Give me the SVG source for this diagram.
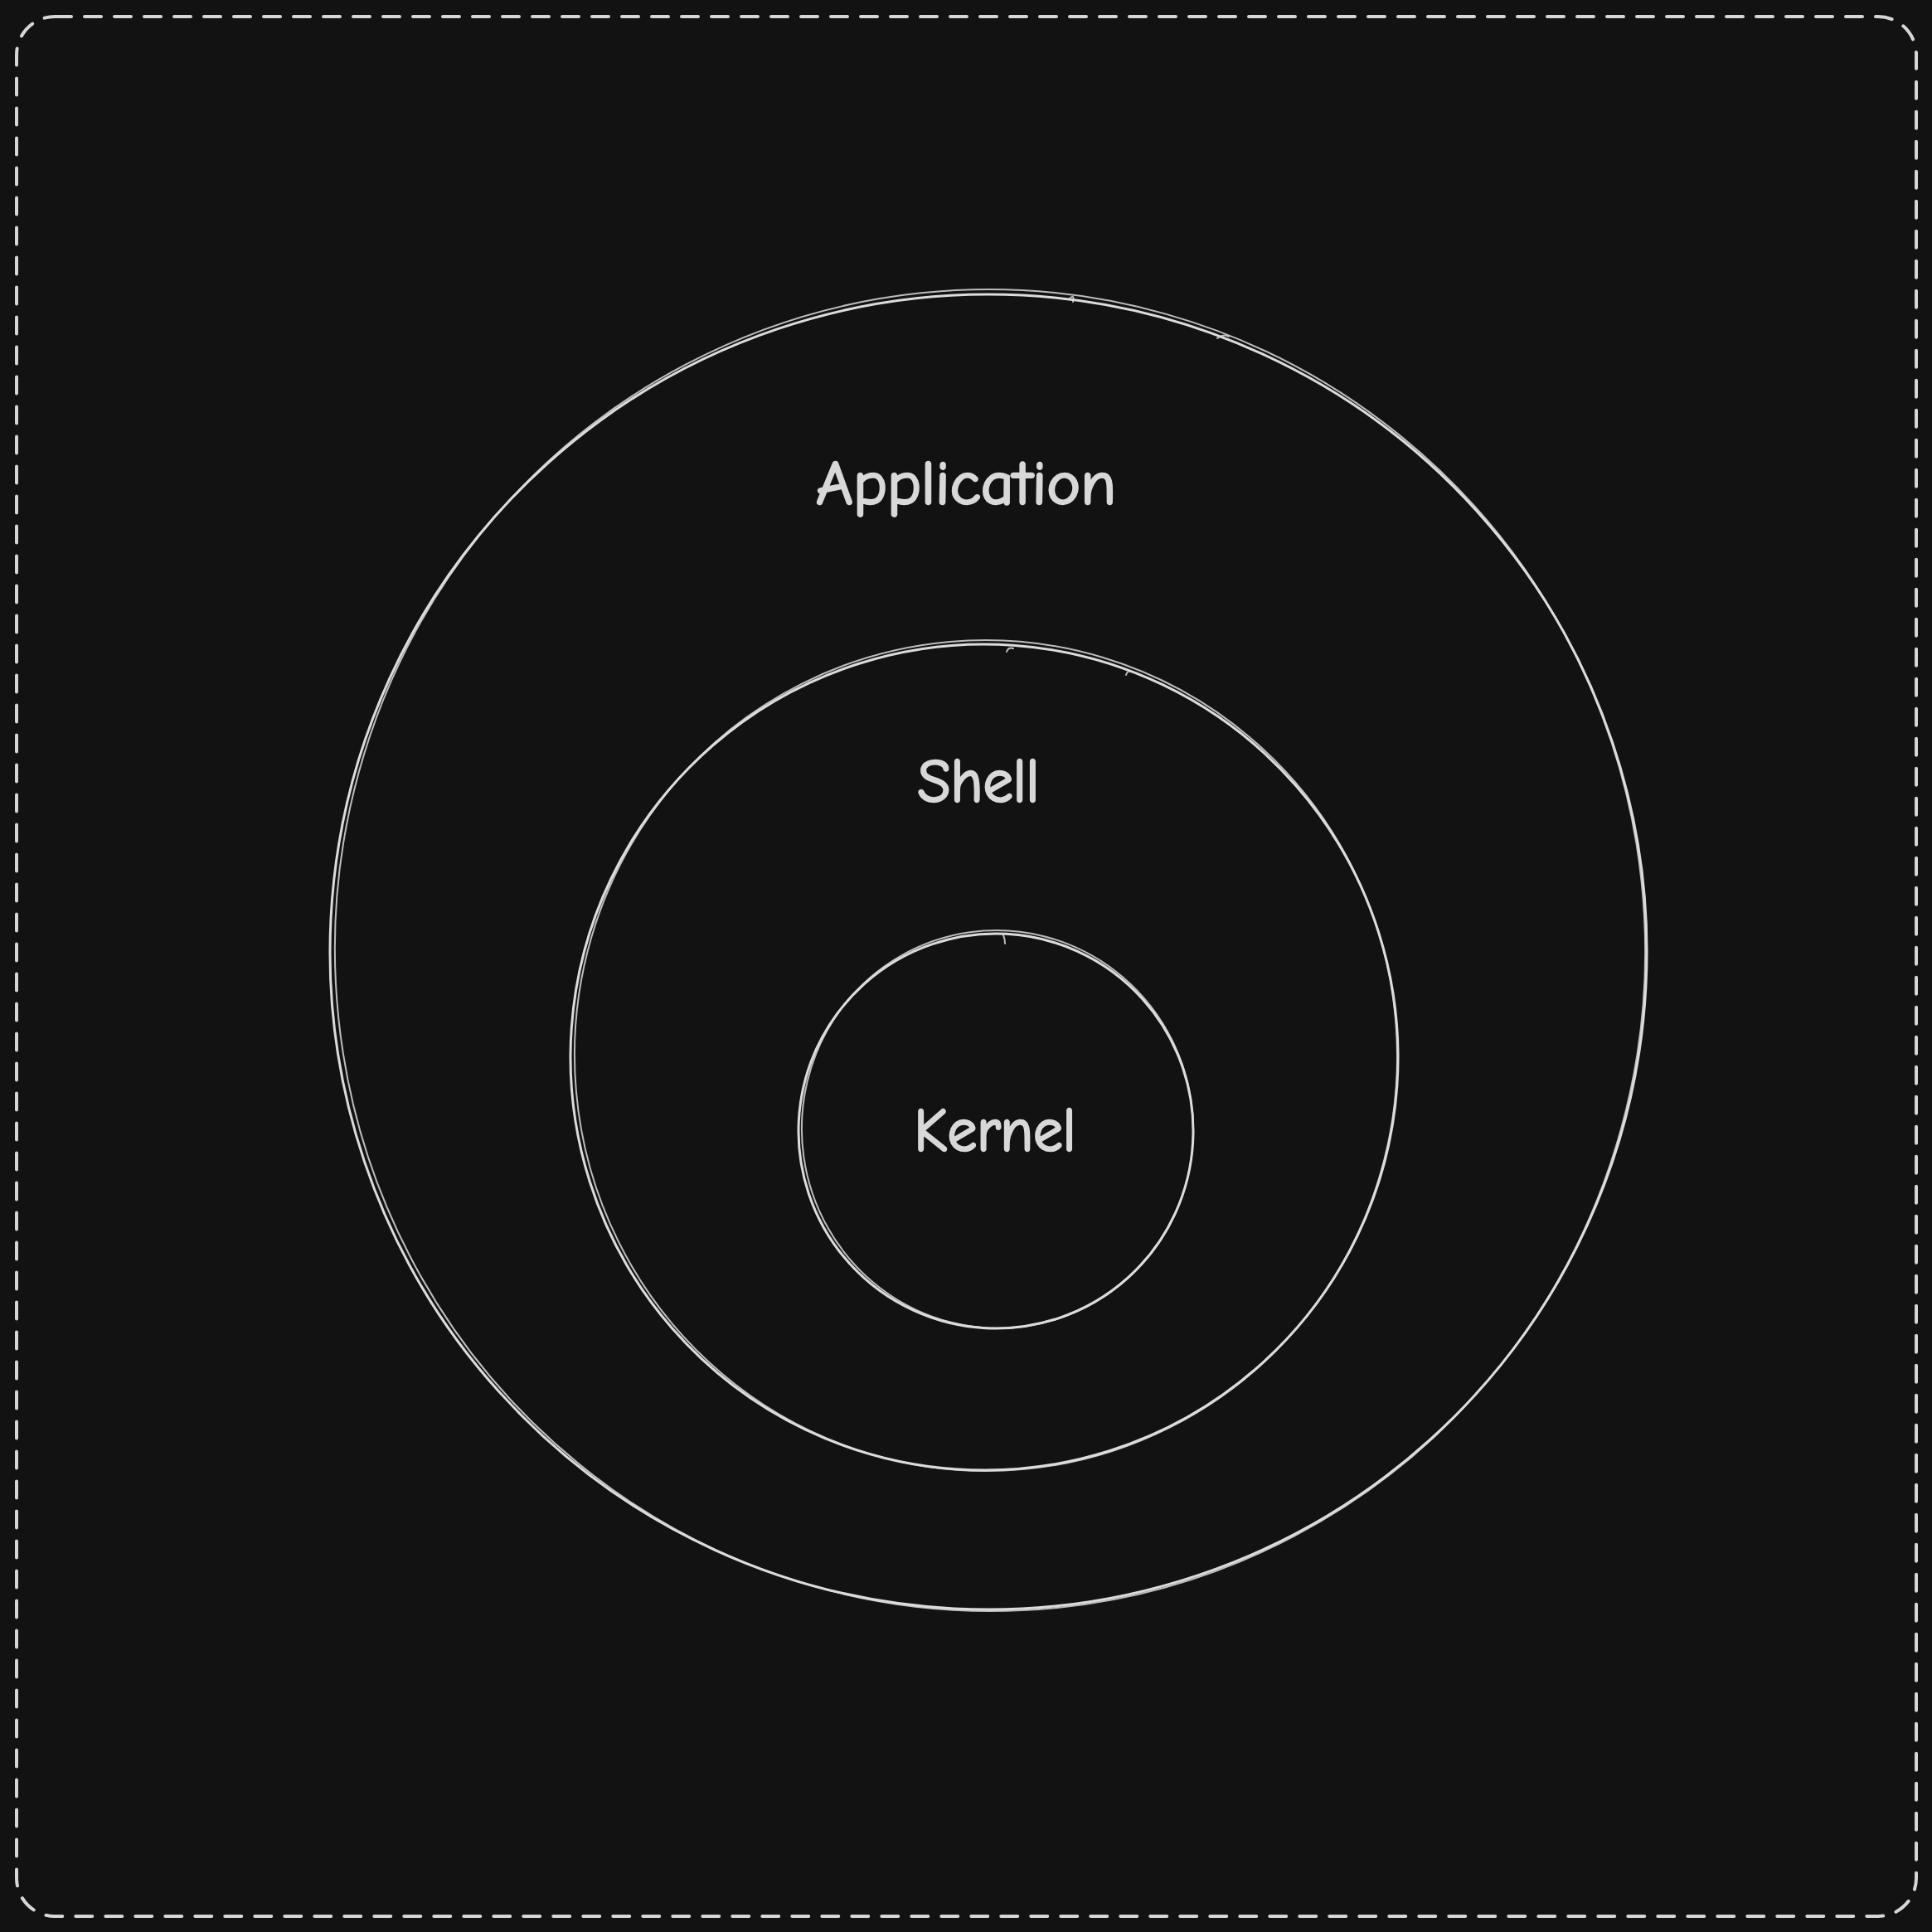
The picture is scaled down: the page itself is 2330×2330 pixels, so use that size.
<svg xmlns="http://www.w3.org/2000/svg" width="2330" height="2330" viewBox="0 0 2330 2330">
<style>
.bg{fill:#121212}
.frame{fill:none;stroke:#d6d6d6;stroke-width:4;stroke-dasharray:20 16;stroke-linecap:round}
.ring{fill:none;stroke:#dcdcdc;stroke-width:3;stroke-linecap:round}
.ring2{fill:none;stroke:#dcdcdc;stroke-width:2;stroke-linecap:round;opacity:0.85}
.lbl{font-family:"Comic Neue","Liberation Sans","DejaVu Sans",sans-serif;font-size:74px;fill:#d8d8d8;stroke:#d8d8d8;stroke-width:2.5;stroke-linejoin:round;text-anchor:middle}
</style>
<rect class="bg" x="0" y="0" width="2330" height="2330"/>
<g id="frame">
<rect class="frame" x="20" y="20" width="2291" height="2291" rx="46" ry="46"/>
</g>
<g id="application">
<ellipse class="ring" cx="1192" cy="1148" rx="794" ry="793" transform="rotate(3 1192 1148)"/>
<ellipse class="ring2" cx="1194" cy="1146" rx="790" ry="797" transform="rotate(-6 1194 1146)"/>
<path class="ring2" d="M1290 360 q6 -6 4 4 M1468 408 q8 -6 14 -2"/>
<text class="lbl" x="1165" y="608" textLength="362" lengthAdjust="spacingAndGlyphs">Application</text>
</g>
<g id="shell">
<ellipse class="ring" cx="1187" cy="1275" rx="499" ry="498" transform="rotate(4 1187 1275)"/>
<ellipse class="ring2" cx="1189" cy="1273" rx="496" ry="501" transform="rotate(-5 1189 1273)"/>
<path class="ring2" d="M1214 786 q2 -6 8 -4 M1358 814 q2 -6 6 -4"/>
<text class="lbl" x="1180" y="967" textLength="147" lengthAdjust="spacingAndGlyphs">Shell</text>
</g>
<g id="kernel">
<ellipse class="ring" cx="1201" cy="1364" rx="238" ry="238" transform="rotate(3 1201 1364)"/>
<ellipse class="ring2" cx="1203" cy="1362" rx="236" ry="240" transform="rotate(-8 1203 1362)"/>
<path class="ring2" d="M1210 1128 q2 4 2 10"/>
<text class="lbl" x="1200" y="1388" textLength="195" lengthAdjust="spacingAndGlyphs">Kernel</text>
</g>
<g id="connectors"/>
</svg>
